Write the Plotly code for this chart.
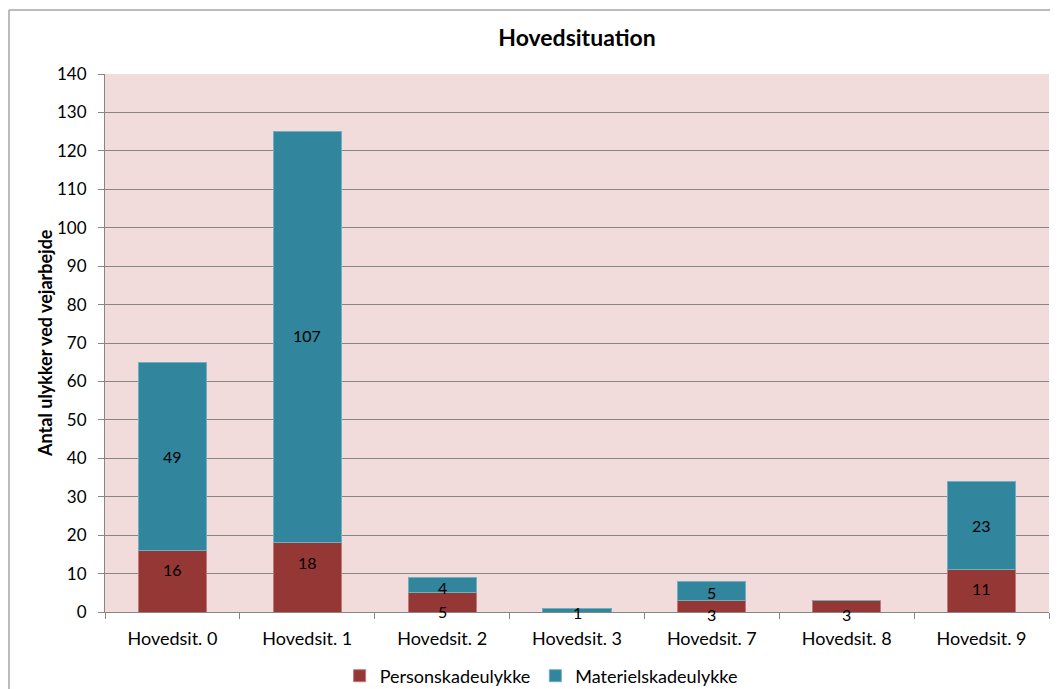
import plotly.graph_objects as go

categories = ["Hovedsit. 0", "Hovedsit. 1", "Hovedsit. 2", "Hovedsit. 3", "Hovedsit. 7", "Hovedsit. 8", "Hovedsit. 9"]
person = [16, 18, 5, 0, 3, 3, 11]
materiel = [49, 107, 4, 1, 5, 0, 23]
y_ticks = list(range(0, 141, 10))

# label vertical nudges (pixels) to mimic the original label placement
person_shift = [12, 15, -9, 0, -8, -8, 2]
materiel_shift = [0, 2, -2, -2, -2, 0, 0]

RED = "#953735"
TEAL = "#31859C"
FONT = "Lato"

fig = go.Figure()
fig.add_trace(go.Bar(name="Personskadeulykke", x=categories, y=person,
                     marker=dict(color=RED, line=dict(color="#C0787A", width=1))))
fig.add_trace(go.Bar(name="Materielskadeulykke", x=categories, y=materiel,
                     marker=dict(color=TEAL, line=dict(color="#6FAFC0", width=1))))

annotations = []
for i, c in enumerate(categories):
    if person[i] > 0:
        annotations.append(dict(x=c, y=person[i] / 2, text=str(person[i]), showarrow=False,
                                yshift=person_shift[i], font=dict(size=16, color="black", family=FONT)))
    if materiel[i] > 0:
        annotations.append(dict(x=c, y=person[i] + materiel[i] / 2, text=str(materiel[i]), showarrow=False,
                                yshift=materiel_shift[i], font=dict(size=16, color="black", family=FONT)))

annotations.append(dict(xref="paper", yref="paper", x=-0.0636, y=0.5, textangle=-90,
                        xanchor="center", yanchor="middle",
                        text="<b>Antal ulykker ved vejarbejde</b>", showarrow=False,
                        font=dict(size=18, family=FONT, color="black")))

fig.update_layout(
    width=1050, height=681,
    margin=dict(l=97, r=9, t=66, b=77, autoexpand=False),
    barmode="stack", bargap=0.495,
    paper_bgcolor="white", plot_bgcolor="#F2DCDB",
    font=dict(family=FONT, size=17, color="black"),
    title=dict(text="<b>Hovedsituation</b>", x=0.5, xanchor="center",
               xref="paper", y=0.956, yref="container", yanchor="middle",
               font=dict(size=23, family=FONT)),
    showlegend=True,
    legend=dict(orientation="h", x=0.462, xanchor="center", y=-0.119, yanchor="middle",
                font=dict(size=18, family=FONT), traceorder="normal", itemwidth=30),
    annotations=annotations,
    xaxis=dict(type="category", showline=True, linecolor="#868686", linewidth=1,
               ticks="outside", tickson="boundaries", ticklen=6, tickcolor="#868686",
               showgrid=False, tickfont=dict(size=18, family=FONT), automargin=False,
               ticklabelstandoff=10),
    yaxis=dict(range=[0, 140], tickvals=y_ticks, showline=True, linecolor="#868686", linewidth=1,
               ticks="outside", ticklen=6, tickcolor="#868686", showgrid=True,
               gridcolor="#868686", gridwidth=1, zeroline=False, automargin=False,
               tickfont=dict(size=17, family=FONT), ticklabelstandoff=8),
    shapes=[
        dict(type="line", xref="paper", yref="paper", x0=-0.1017, x1=1.05, y0=1.119, y1=1.119,
             line=dict(color="#A6A6A6", width=1.5)),
        dict(type="line", xref="paper", yref="paper", x0=-0.1017, x1=-0.1017, y0=-0.2, y1=1.119,
             line=dict(color="#A6A6A6", width=1.5)),
    ],
)

fig.write_html("out.html")
